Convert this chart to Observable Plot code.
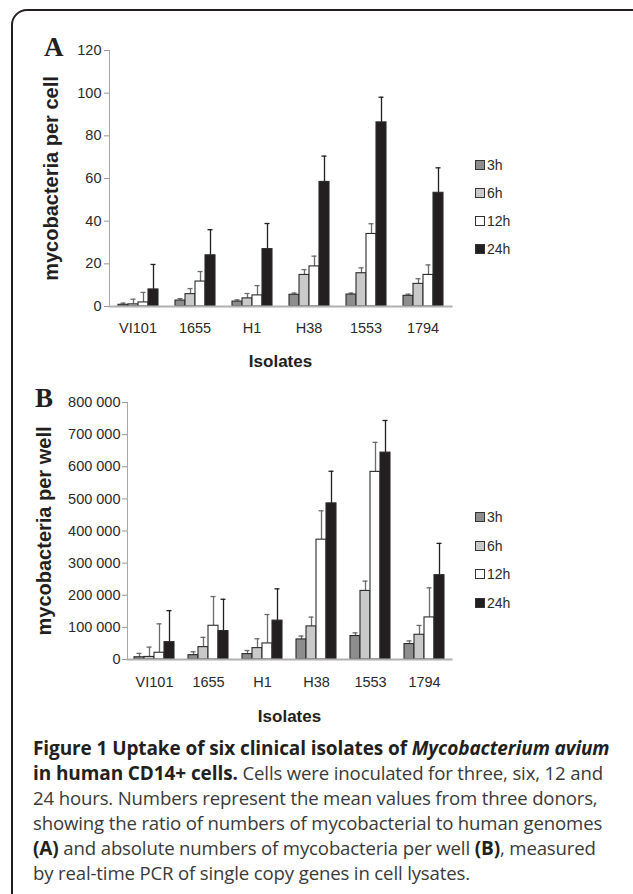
<!DOCTYPE html>
<html><head><meta charset="utf-8">
<script src="https://cdn.jsdelivr.net/npm/d3@7"></script>
<script src="https://cdn.jsdelivr.net/npm/@observablehq/plot@0.6"></script>
<style>
html,body{margin:0;padding:0;background:#fff;}
body{width:633px;height:894px;overflow:hidden;position:relative;}
#frame{position:absolute;left:11px;top:9px;width:660px;height:1000px;border:2px solid #231f20;border-radius:16px;box-sizing:border-box;}
.panel{position:absolute;left:0;}
.plabel{position:absolute;font-family:"Liberation Serif","Times New Roman",serif;font-weight:bold;font-size:27px;color:#231f20;line-height:1;}
.legend{position:absolute;font-family:"Liberation Sans",Arial,sans-serif;font-size:14px;color:#2a2a2a;}
.legend .item{position:absolute;left:0;display:flex;align-items:center;white-space:nowrap;height:16px;}
.legend .sw{width:8px;height:8px;border:1px solid #333;margin-right:2px;}
#caption{position:absolute;left:33px;top:735px;font-family:"Open Sans",sans-serif;font-size:18.6px;letter-spacing:-0.15px;color:#3a3a3a;}
#caption div{height:25px;line-height:25px;white-space:nowrap;}
#caption b{color:#231f20;font-size:19px;letter-spacing:-0.1px;}
g[aria-label="fx-axis label"], g[aria-label="fx-axis label"] text{font-weight:bold;font-size:17px;fill:#231f20;}
g[aria-label="y-axis label"], g[aria-label="y-axis label"] text{font-weight:bold;font-size:20px;fill:#231f20;}
</style>
</head><body>
<div id="frame"></div>
<div id="root"></div>
<div id="caption">
<div><b>Figure 1 Uptake of six clinical isolates of <i>Mycobacterium avium</i></b></div>
<div><b>in human CD14+ cells.</b> Cells were inoculated for three, six, 12 and</div>
<div>24 hours. Numbers represent the mean values from three donors,</div>
<div>showing the ratio of numbers of mycobacterial to human genomes</div>
<div><b>(A)</b> and absolute numbers of mycobacteria per well <b>(B)</b>, measured</div>
<div>by real-time PCR of single copy genes in cell lysates.</div>
</div>
<script>
// ---- data ----
const isolates = ["VI101", "1655", "H1", "H38", "1553", "1794"];
const times = ["3h", "6h", "12h", "24h"];

// Panel A: mycobacteria per cell (means)
const A_3h  = [0.8, 2.8, 2.3, 5.5, 5.6, 5.0];
const A_6h  = [1.0, 5.8, 3.8, 14.8, 15.6, 10.6];
const A_12h = [1.9, 11.7, 5.2, 18.8, 34.0, 14.8];
const A_24h = [8.0, 24.0, 26.9, 58.4, 86.3, 53.3];
// Panel A: error bars (upper)
const A_3h_err  = [0.8, 0.9, 0.8, 0.8, 0.7, 0.8];
const A_6h_err  = [2.4, 2.6, 2.3, 2.5, 2.5, 2.4];
const A_12h_err = [4.7, 4.7, 4.6, 4.8, 4.8, 4.7];
const A_24h_err = [11.7, 12.0, 12.0, 12.1, 11.8, 11.7];

// Panel B: mycobacteria per well (means)
const B_3h  = [7000, 13500, 16700, 62500, 73000, 48000];
const B_6h  = [8000, 38500, 35400, 103000, 213500, 77000];
const B_12h = [21000, 105000, 50000, 373000, 584000, 131000];
const B_24h = [54000, 88500, 121000, 486000, 644000, 262500];
// Panel B: error bars (upper)
const B_3h_err  = [12000, 10500, 11300, 10500, 10000, 10000];
const B_6h_err  = [30500, 30500, 29200, 29000, 30500, 29000];
const B_12h_err = [90000, 91000, 90000, 90000, 92000, 92000];
const B_24h_err = [98000, 99000, 99000, 100000, 100000, 99000];

const yTicksA = [0, 20, 40, 60, 80, 100, 120];
const yTicksB = [0, 100000, 200000, 300000, 400000, 500000, 600000, 700000, 800000];

const fills = ["#8d8d8d", "#c9c9c9", "#ffffff", "#231f20"];
const errStroke = ["#6b6b6b", "#6b6b6b", "#6b6b6b", "#231f20"];

function rows(series, errs) {
  const out = [];
  isolates.forEach((iso, i) => times.forEach((t, j) => {
    out.push({isolate: iso, time: t, value: series[j][i], hi: series[j][i] + errs[j][i]});
  }));
  return out;
}
const dataA = rows([A_3h, A_6h, A_12h, A_24h], [A_3h_err, A_6h_err, A_12h_err, A_24h_err]);
const dataB = rows([B_3h, B_6h, B_12h, B_24h], [B_3h_err, B_6h_err, B_12h_err, B_24h_err]);

const loc = d3.formatLocale({decimal: ".", thousands: " ", grouping: [3], currency: ["", ""]});
const fmtB = loc.format(",d");

function chart(data, opt) {
  return Plot.plot({
    width: 633,
    height: opt.height,
    marginLeft: opt.ml, marginRight: 180, marginTop: opt.mt, marginBottom: opt.mb,
    style: {fontFamily: "'Liberation Sans', Arial, sans-serif", fontSize: "14px", color: "#2a2a2a", background: "transparent", overflow: "visible"},
    fx: {domain: isolates, padding: 0},
    x: {domain: times, paddingInner: 0, paddingOuter: 0.7, axis: null},
    y: {domain: opt.ydomain, axis: null},
    color: {domain: times, range: fills},
    marks: [
      Plot.axisFx({anchor: "bottom", tickSize: 0, tickPadding: opt.tp, fontSize: 14.5, label: "Isolates", labelAnchor: "center", labelOffset: opt.lo, labelArrow: "none", fill: "#2a2a2a"}),
      Plot.axisY({ticks: opt.ticks, tickFormat: opt.fmt, tickSize: 5, tickPadding: opt.ytp, fontSize: 14.5, stroke: "#999", fill: "#2a2a2a",
        label: opt.ylabel, labelAnchor: "center", labelOffset: opt.ylo, labelArrow: "none"}),
      Plot.ruleX(data, {fx: "isolate", x: "time", y1: "value", y2: "hi", stroke: d => errStroke[times.indexOf(d.time)], strokeWidth: 1.3}),
      Plot.tickY(data, {fx: "isolate", x: "time", y: "hi", stroke: d => errStroke[times.indexOf(d.time)], strokeWidth: 1.3, insetLeft: 2.5, insetRight: 2.5}),
      Plot.barY(data, {fx: "isolate", x: "time", y: "value", fill: "time", stroke: "#2a2a2a", strokeWidth: 1.1}),
      Plot.frame({anchor: "left", facet: "super", stroke: "#a8a8a8", strokeWidth: 1}),
      Plot.frame({anchor: "bottom", facet: "super", stroke: "#b0b0b0", strokeWidth: 2})
    ]
  });
}

const root = document.getElementById("root");
function addPanel(plot, top, letter, lx, ly, legendTop, legendSpacing) {
  const d = document.createElement("div");
  d.className = "panel"; d.style.top = top + "px";
  d.appendChild(plot);
  root.appendChild(d);
  const l = document.createElement("div");
  l.className = "plabel"; l.textContent = letter;
  l.style.left = lx + "px"; l.style.top = ly + "px";
  root.appendChild(l);
  const color = plot.scale("color");
  const lg = document.createElement("div");
  lg.className = "legend"; lg.style.left = "475px"; lg.style.top = legendTop + "px";
  color.domain.forEach((t, i) => {
    const it = document.createElement("div");
    it.className = "item"; it.style.top = (i * legendSpacing) + "px";
    const sw = document.createElement("span"); sw.className = "sw"; sw.style.background = color.range[i];
    const tx = document.createElement("span"); tx.textContent = t;
    it.appendChild(sw); it.appendChild(tx); lg.appendChild(it);
  });
  root.appendChild(lg);
}

const plotA = chart(dataA, {height: 380, ml: 106, mt: 50, mb: 74, ydomain: [0, 120], ticks: yTicksA, fmt: d3.format("d"),
  tp: 16, lo: 60, ytp: 3, ylabel: "mycobacteria per cell", ylo: 66});
addPanel(plotA, 0, "A", 44, 34, 157, 28);

const plotB = chart(dataB, {height: 350, ml: 124, mt: 22, mb: 71, ydomain: [0, 800000], ticks: yTicksB, fmt: fmtB,
  tp: 17, lo: 62, ytp: 2, ylabel: "mycobacteria per well", ylo: 91});
addPanel(plotB, 380, "B", 35, 385, 509, 28.5);
</script>
</body></html>
